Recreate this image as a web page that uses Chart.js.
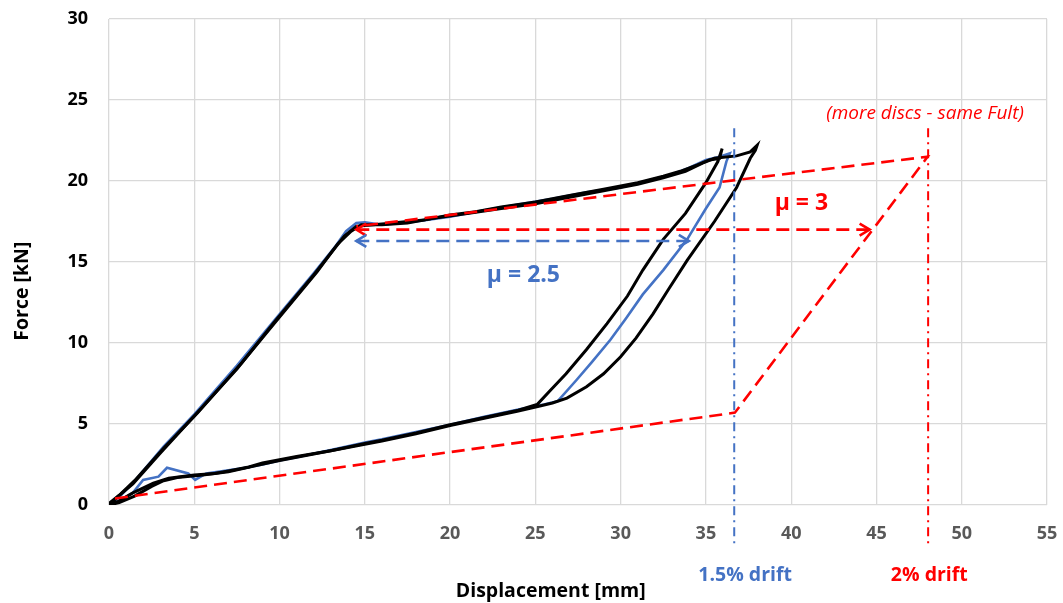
<!DOCTYPE html>
<html>
<head>
<meta charset="utf-8">
<script src="https://cdn.jsdelivr.net/npm/chart.js@4/dist/chart.umd.min.js"></script>
<style>
  html, body { margin: 0; padding: 0; background: #fff; }
  #wrap { width: 1063px; height: 603px; }
</style>
</head>
<body>
<div id="wrap"><canvas id="forceDisp" width="1063" height="603"></canvas></div>
<script>
// axis ticks
var xTicks = [0, 5, 10, 15, 20, 25, 30, 35, 40, 45, 50, 55];
var yTicks = [0, 5, 10, 15, 20, 25, 30];

// test cycles [displacement mm, force kN]
var blackCycleA = [
    [0, 0], [0.5, 0.5], [1.4, 1.3], [3, 3.2], [5, 5.5], [7.5, 8.4], [9.7, 11.3], [12, 14.2], [13.2, 15.8], [13.8, 16.6], [14.5, 17.2],
    [15.5, 17.3], [16.5, 17.4], [17.5, 17.5], [18.5, 17.6], [20, 17.9], [21.5, 18.1], [23, 18.4], [25, 18.7], [27, 19.1], [29, 19.5],
    [31, 19.9], [32.5, 20.3], [33.5, 20.6], [34.5, 21.0], [35.2, 21.3], [35.8, 21.4], [35.95, 22.0],
    [35.7, 21.2], [35.0, 19.9], [33.8, 18.0], [32.5, 16.4], [31.3, 14.5], [30.4, 12.9], [29.2, 11.2], [28.0, 9.6], [26.8, 8.1], [25.9, 7.1], [25.1, 6.2],
    [24, 5.85], [22, 5.4], [20, 4.95], [18, 4.45], [16, 4.0], [15, 3.8], [13, 3.35], [11, 3.0], [10, 2.8], [9, 2.6], [8.2, 2.35],
    [7, 2.1], [6.2, 1.95], [5, 1.85], [3.5, 1.65], [2.6, 1.35], [1.4, 0.75], [0.5, 0.2], [0, 0]
];
var blackCycleB = [
    [0, 0.1], [0.6, 0.6], [1.5, 1.5], [3.2, 3.5], [5.2, 5.7], [7.8, 8.8], [10, 11.6], [12.2, 14.4], [13.4, 16.1], [14.2, 16.9], [14.8, 17.3],
    [16, 17.3], [17.5, 17.4], [19, 17.7], [21, 18.0], [23, 18.3], [25, 18.6], [27, 19.0], [29, 19.4], [31, 19.8], [32.5, 20.2],
    [33.8, 20.6], [34.8, 21.1], [35.5, 21.4], [36.8, 21.55], [37.6, 21.8], [38.0, 22.2],
    [37.9, 21.9], [37.6, 21.4], [36.8, 19.6], [35.5, 17.5], [33.9, 15.1], [32.8, 13.3], [31.9, 11.8], [30.9, 10.3], [30.0, 9.15],
    [29.0, 8.1], [28.0, 7.3], [26.85, 6.6], [26.0, 6.3], [25.2, 6.1],
    [24, 5.8], [22, 5.35], [20, 4.9], [18, 4.4], [16, 3.95], [14, 3.55], [12, 3.15], [10, 2.75], [8.5, 2.4], [7, 2.05],
    [5.5, 1.85], [4, 1.7], [3.2, 1.5], [2.5, 1.15], [1.5, 0.55], [0.6, 0.15], [0, 0]
];
var blueCycle = [
    [0, 0], [0.7, 0.6], [1.6, 1.6], [3.2, 3.6], [5, 5.6], [7.5, 8.6], [9.7, 11.4], [12, 14.3], [13.3, 16.0], [13.9, 16.9], [14.5, 17.4],
    [15, 17.45], [16, 17.3], [17, 17.4], [18, 17.5], [20, 17.8], [22, 18.2], [24, 18.55], [26, 18.9], [28, 19.3], [30, 19.6],
    [31.5, 20.0], [33, 20.4], [34, 20.8], [35, 21.3], [35.8, 21.5], [36.4, 21.7],
    [36.2, 21.2], [35.8, 19.6], [35, 18.3], [33.9, 16.4], [32.5, 14.5], [31.3, 13.0], [30.3, 11.5], [29.4, 10.2], [28.3, 8.8],
    [27.4, 7.7], [26.3, 6.4], [25.5, 6.2],
    [24, 5.9], [22, 5.45], [20, 4.95], [18, 4.5], [16, 4.05], [15, 3.85], [13, 3.4], [11, 2.95], [10, 2.75], [9, 2.5], [8, 2.3],
    [7, 2.15], [5.7, 1.95], [5.05, 1.55], [4.65, 1.95], [3.4, 2.3], [2.9, 1.75], [2.0, 1.55], [1.4, 0.75], [0.5, 0.2], [0, 0]
];

// idealised model (more discs - same Fult)
var redModel = [[0.35, 0.4], [36.7, 5.7], [48, 21.5], [14.5, 17.2]];
var redArrow = [[14.5, 17.0], [44.6, 17.0]];
var blueArrow = [[14.5, 16.3], [34.0, 16.3]];

// drift limits
var drift15 = 36.66;
var drift20 = 48.03;
var driftSpan = [23.25, -2.6];

var BLUE = "#4472C4";
var RED = "#FF0000";
var FONT = "'Open Sans', sans-serif";

function pts(arr) {
    return arr.map(function (p) { return { x: p[0], y: p[1] }; });
}

function line(data, color, width, dash, extra) {
    var ds = {
        data: pts(data),
        borderColor: color,
        borderWidth: width,
        borderDash: dash || [],
        showLine: true,
        fill: false,
        pointRadius: 0,
        pointHoverRadius: 0,
        tension: 0
    };
    for (var k in extra) ds[k] = extra[k];
    return ds;
}

var chartText = {
    id: "chartText",
    afterDatasetsDraw: function (chart) {
        var ctx = chart.ctx;
        var xs = chart.scales.x, ys = chart.scales.y;

        // arrow heads on the dashed friction arrows
        chart.data.datasets.forEach(function (ds, i) {
            if (!ds.arrows) return;
            var pt = chart.getDatasetMeta(i).data;
            var a = pt[0], b = pt[pt.length - 1];
            ctx.save();
            ctx.strokeStyle = ds.borderColor;
            ctx.lineWidth = 2.6;
            ctx.setLineDash([]);
            [[a, 1], [b, -1]].forEach(function (h) {
                var p = h[0], d = h[1];
                ctx.beginPath();
                ctx.moveTo(p.x + d * 10, p.y - 6);
                ctx.lineTo(p.x, p.y);
                ctx.lineTo(p.x + d * 10, p.y + 6);
                ctx.stroke();
            });
            ctx.restore();
        });

        function label(txt, x, y, color, font) {
            ctx.save();
            ctx.fillStyle = color;
            ctx.font = font;
            ctx.textAlign = "center";
            ctx.textBaseline = "middle";
            ctx.fillText(txt, xs.getPixelForValue(x), ys.getPixelForValue(y));
            ctx.restore();
        }
        label("(more discs - same Fult)", 47.85, 24.14, RED, "italic 19px " + FONT);
        label("\u03bc = 3", 40.6, 18.64, RED, "bold 23px " + FONT);
        label("\u03bc = 2.5", 24.3, 14.2, BLUE, "bold 23px " + FONT);
        label("1.5% drift", 37.3, -4.32, BLUE, "bold 19.5px " + FONT);
        label("2% drift", 48.1, -4.32, RED, "bold 19.5px " + FONT);

        // axis titles
        ctx.save();
        ctx.fillStyle = "#000";
        ctx.font = "bold 19.5px " + FONT;
        ctx.textAlign = "center";
        ctx.textBaseline = "middle";
        ctx.fillText("Displacement [mm]", xs.getPixelForValue(25.9), 591);
        ctx.translate(22, ys.getPixelForValue(13.2));
        ctx.rotate(-Math.PI / 2);
        ctx.fillText("Force [kN]", 0, 0);
        ctx.restore();
    }
};

new Chart("forceDisp", {
    type: "scatter",
    data: {
        datasets: [
            line(redModel, RED, 2.6, [13, 7]),
            line(redArrow, RED, 2.6, [13, 7], { arrows: true }),
            line(blueArrow, BLUE, 2.6, [13, 7], { arrows: true }),
            line([[drift15, driftSpan[0]], [drift15, driftSpan[1]]], BLUE, 2, [9, 5, 2, 5], { clip: false }),
            line([[drift20, driftSpan[0]], [drift20, driftSpan[1]]], RED, 2, [9, 5, 2, 5], { clip: false }),
            line(blackCycleA, "#000000", 3),
            line(blackCycleB, "#000000", 3),
            line(blueCycle, BLUE, 2.6)
        ]
    },
    options: {
        responsive: false,
        animation: false,
        layout: { autoPadding: false, padding: { left: 0, right: 16, top: 19, bottom: 0 } },
        plugins: {
            legend: { display: false },
            tooltip: { enabled: false }
        },
        scales: {
            x: {
                type: "linear",
                min: 0,
                max: 55,
                afterBuildTicks: function (s) { s.ticks = xTicks.map(function (v) { return { value: v }; }); },
                afterFit: function (s) {
                    s.height = 98;
                    s.paddingLeft = 0; s.paddingRight = 0;
                },
                grid: { color: "#D9D9D9", lineWidth: 1.3, drawTicks: false },
                border: { display: false },
                ticks: { padding: 18, color: "#595959", font: { family: FONT, size: 18, weight: "bold" } }
            },
            y: {
                type: "linear",
                min: 0,
                max: 30,
                afterBuildTicks: function (s) { s.ticks = yTicks.map(function (v) { return { value: v }; }); },
                afterFit: function (s) {
                    s.width = 109;
                    s.paddingTop = 0; s.paddingBottom = 0;
                },
                grid: { color: "#D9D9D9", lineWidth: 1.3, drawTicks: false },
                border: { display: false },
                ticks: { padding: 21, color: "#000", font: { family: FONT, size: 18, weight: "bold" } }
            }
        }
    },
    plugins: [chartText]
});
</script>
</body>
</html>
